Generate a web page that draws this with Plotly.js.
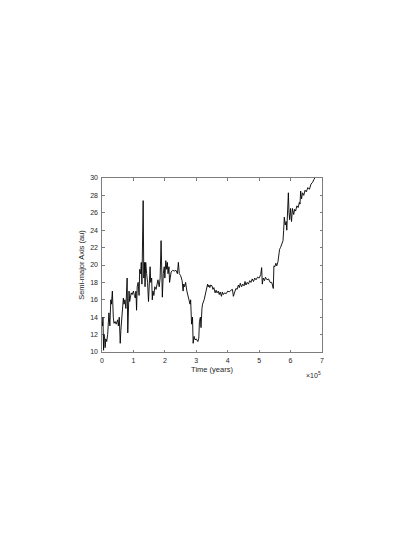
<!DOCTYPE html>
<html>
<head>
<meta charset="utf-8">
<script src="https://cdn.plot.ly/plotly-3.0.1.min.js"></script>
<style>
  html, body { margin: 0; padding: 0; background: #fff; }
  #chart { width: 415px; height: 537px; }
</style>
</head>
<body>
<div id="chart"></div>
<script>
// time in units of 1e5 years, semi-major axis in au
const timeE5 = [
  0.00, 0.02, 0.03, 0.05, 0.06, 0.08, 0.10, 0.12, 0.15, 0.18, 0.20, 0.22, 0.25, 0.28, 0.30, 0.33,
  0.36, 0.38, 0.42, 0.45, 0.50, 0.52, 0.55, 0.58, 0.60, 0.62, 0.65, 0.68, 0.70, 0.73, 0.76, 0.80,
  0.82, 0.84, 0.86, 0.88, 0.90, 0.93, 0.96, 1.00, 1.03, 1.06, 1.08, 1.10, 1.12, 1.15, 1.18, 1.20,
  1.23, 1.25, 1.27, 1.29, 1.31, 1.33, 1.35, 1.37, 1.39, 1.42, 1.45, 1.48, 1.50, 1.53, 1.55, 1.58,
  1.60, 1.62, 1.65, 1.68, 1.72, 1.75, 1.78, 1.82, 1.85, 1.88, 1.90, 1.92, 1.95, 1.98, 2.00, 2.03,
  2.06, 2.08, 2.10, 2.13, 2.15, 2.18, 2.20, 2.25, 2.30, 2.35, 2.40, 2.43, 2.46, 2.50, 2.55, 2.58,
  2.60, 2.63, 2.66, 2.70, 2.73, 2.76, 2.80, 2.82, 2.85, 2.88, 2.90, 2.93, 2.96, 3.00, 3.05, 3.08,
  3.10, 3.13, 3.15, 3.18, 3.20, 3.25, 3.30, 3.33, 3.36, 3.38, 3.40, 3.43, 3.46, 3.50, 3.53, 3.56,
  3.60, 3.63, 3.66, 3.70, 3.73, 3.76, 3.80, 3.83, 3.86, 3.90, 3.95, 4.00, 4.05, 4.10, 4.15, 4.18,
  4.22, 4.26, 4.30, 4.34, 4.37, 4.40, 4.44, 4.48, 4.52, 4.55, 4.58, 4.62, 4.66, 4.70, 4.74, 4.78,
  4.82, 4.86, 4.90, 4.95, 5.00, 5.05, 5.08, 5.10, 5.13, 5.17, 5.20, 5.25, 5.30, 5.35, 5.40, 5.45,
  5.47, 5.50, 5.53, 5.56, 5.60, 5.62, 5.65, 5.68, 5.72, 5.76, 5.78, 5.80, 5.83, 5.86, 5.88, 5.90,
  5.93, 5.95, 5.97, 6.00, 6.03, 6.06, 6.10, 6.13, 6.16, 6.20, 6.24, 6.28, 6.30, 6.32, 6.35, 6.38,
  6.42, 6.46, 6.50, 6.55, 6.60, 6.65, 6.70, 6.74, 6.77
];
const semiMajor = [
  13.5, 13.0, 14.0, 10.2, 12.0, 11.8, 10.5, 11.5, 11.2, 12.0, 13.0, 14.5, 13.0, 16.0, 15.5, 17.0,
  14.0, 13.3, 13.5, 13.2, 13.7, 13.0, 14.0, 11.0, 12.5, 13.8, 14.5, 16.2, 15.5, 16.0, 15.0, 18.5,
  12.2, 15.0, 17.0, 15.8, 16.5, 16.8, 16.6, 17.0, 16.5, 16.2, 17.0, 14.8, 17.5, 18.0, 16.5, 19.5,
  19.0, 20.3, 17.8, 25.0, 27.4, 18.5, 20.3, 17.5, 20.3, 19.0, 18.0, 15.8, 18.5, 19.8, 18.0, 18.5,
  16.0, 17.0, 16.5, 17.5, 17.2, 18.0, 18.3, 17.5, 18.5, 22.8, 18.0, 16.3, 19.0, 19.8, 18.5, 20.5,
  19.5, 20.3, 19.0, 19.8, 18.0, 19.0, 19.2, 19.4, 19.3, 19.4, 19.0, 20.3, 19.0, 18.8, 18.2, 17.0,
  17.8, 17.5, 18.0, 17.0, 16.5, 16.3, 15.5, 16.0, 13.2, 14.0, 11.0, 11.8, 11.4, 11.5, 11.2, 11.6,
  13.5, 14.0, 12.8, 15.0, 15.5, 16.0, 17.0, 17.4, 17.8, 17.5, 17.7, 17.4, 17.7, 17.6, 17.2, 17.4,
  16.8, 17.1, 16.8, 17.0, 16.6, 16.9, 16.4, 16.9, 16.6, 16.8, 16.7, 17.0, 16.9, 17.1, 17.2, 16.4,
  17.0, 17.3, 17.2, 17.7, 17.4, 17.9, 17.5, 17.8, 17.6, 18.1, 17.7, 18.0, 17.8, 18.2, 18.0, 18.4,
  18.1, 18.5, 18.3, 18.6, 18.5, 18.9, 19.7, 17.8, 18.5, 18.2, 18.6, 18.3, 18.4, 18.0, 18.0, 17.3,
  19.9, 19.8, 20.2, 19.9, 20.4, 21.2, 21.8, 22.0, 22.5, 22.8, 24.0, 25.5, 24.6, 25.0, 24.0, 25.5,
  28.3, 26.0, 25.2, 26.5, 25.0, 26.5, 25.8, 26.4, 26.2, 26.8, 26.6, 27.2, 27.0, 28.5, 27.6, 28.3,
  28.0, 28.6, 28.4, 28.9, 28.7, 29.3, 29.5, 29.8, 30.0
];
const xTicks = [0, 1, 2, 3, 4, 5, 6, 7];
const yTicks = [10, 12, 14, 16, 18, 20, 22, 24, 26, 28, 30];

const trace = {
  x: timeE5,
  y: semiMajor,
  mode: "lines",
  line: { color: "#000", width: 0.9 },
  showlegend: false,
  hoverinfo: "skip"
};

const axisBase = {
  showline: true,
  linecolor: "#262626",
  linewidth: 0.6,
  mirror: "ticks",
  ticks: "inside",
  ticklen: 2.5,
  tickwidth: 0.6,
  tickcolor: "#262626",
  showgrid: false,
  zeroline: false,
  tickfont: { family: "Liberation Sans, Arial, sans-serif", size: 7, color: "#262626" }
};

const layout = {
  width: 415,
  height: 537,
  paper_bgcolor: "#fff",
  plot_bgcolor: "#fff",
  margin: { l: 102, r: 93, t: 178, b: 185 },
  font: { family: "Liberation Sans, Arial, sans-serif", size: 7, color: "#262626" },
  xaxis: Object.assign({}, axisBase, {
    range: [0, 7],
    tickvals: xTicks,
    ticklabelstandoff: 2,
    title: { text: "Time (years)", font: { size: 7.5, color: "#262626" }, standoff: 3 }
  }),
  yaxis: Object.assign({}, axisBase, {
    range: [10, 30],
    tickvals: yTicks,
    ticklabelstandoff: 2,
    title: { text: "Semi-major Axis (au)", font: { size: 7.5, color: "#262626" }, standoff: 4 }
  }),
  annotations: [{
    xref: "paper", yref: "paper",
    x: 1.005, y: -0.095,
    xanchor: "right", yanchor: "top",
    showarrow: false,
    text: "×10<sup>5</sup>",
    font: { size: 7, color: "#262626" }
  }]
};

Plotly.newPlot("chart", [trace], layout, { displayModeBar: false, staticPlot: true });
</script>
</body>
</html>
